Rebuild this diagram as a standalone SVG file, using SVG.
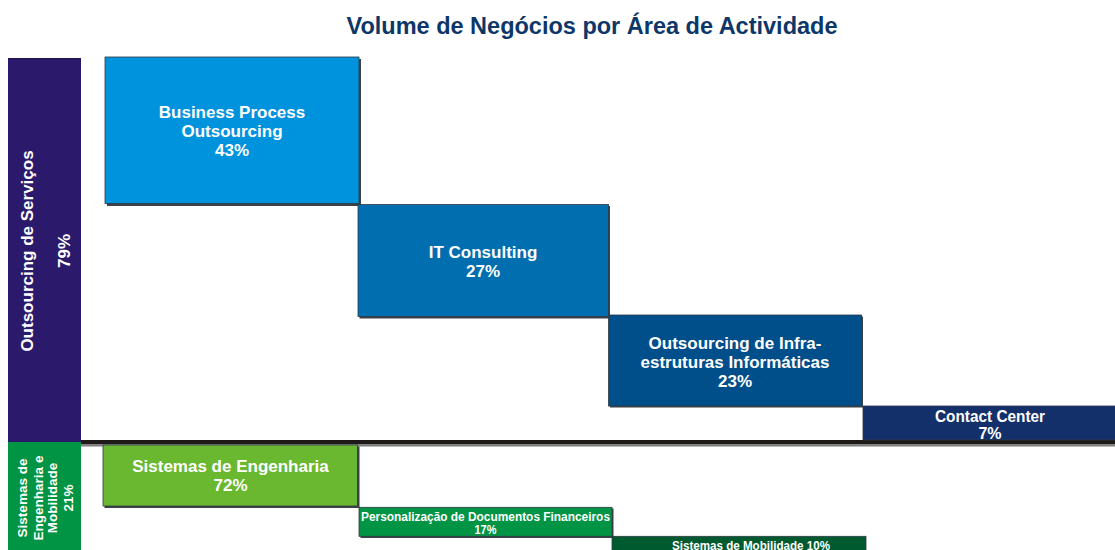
<svg xmlns="http://www.w3.org/2000/svg" width="1115" height="550" viewBox="0 0 1115 550">
<style>
  text { font-family: "Liberation Sans", Arial, sans-serif; font-weight: bold; fill: #ffffff; text-anchor: middle; }
  .title { fill: #0d3768; font-size: 23.5px; }
  .box { stroke: #2f3a45; stroke-width: 0.8; }
  .shadow { fill: #3d4248; }
  .t17 { font-size: 17px; }
  .t16 { font-size: 16px; }
  .t13 { font-size: 13.5px; }
  .t12 { font-size: 12.5px; }
</style>
<rect width="1115" height="550" fill="#ffffff"/>
<text class="title" x="592" y="34">Volume de Negócios por Área de Actividade</text>

<g id="outsourcing-servicos">
  <rect x="8" y="58" width="73" height="384" fill="#2b1a6b"/>
  <line x1="8" y1="58.5" x2="81" y2="58.5" stroke="#1f1450" stroke-width="1"/>
  <text class="t17" transform="translate(32.5,251) rotate(-90)">Outsourcing de Serviços</text>
  <text class="t17" transform="translate(70,251) rotate(-90)">79%</text>
</g>

<g id="sistemas-eng-mob">
  <rect x="8" y="442" width="73" height="108" fill="#009444"/>
  <text class="t13" transform="translate(27,498) rotate(-90)">Sistemas de</text>
  <text class="t13" transform="translate(42.5,498) rotate(-90)">Engenharia e</text>
  <text class="t13" transform="translate(57,498) rotate(-90)">Mobilidade</text>
  <text class="t13" transform="translate(72.5,498) rotate(-90)">21%</text>
</g>

<g id="separator">
  <rect x="81" y="440" width="1034" height="4.5" fill="#1e1a17"/>
  <rect x="81" y="444.5" width="1034" height="2" fill="#7d7d7d"/>
</g>

<g id="bpo">
  <rect class="shadow" x="107" y="59" width="254" height="147"/>
  <rect class="box" x="105" y="57" width="254" height="146.5" fill="#0093dd"/>
  <text class="t17" x="232" y="118">Business Process</text>
  <text class="t17" x="232" y="137">Outsourcing</text>
  <text class="t17" x="232" y="156">43%</text>
</g>

<g id="it-consulting">
  <rect class="shadow" x="359.5" y="206" width="250.5" height="112.5"/>
  <rect class="box" x="358" y="204.5" width="250.5" height="112" fill="#006eaf"/>
  <text class="t17" x="483" y="258">IT Consulting</text>
  <text class="t17" x="483" y="277">27%</text>
</g>

<g id="outsourcing-infra">
  <rect class="shadow" x="610" y="316.5" width="253" height="91"/>
  <rect class="box" x="608.5" y="315" width="253" height="91" fill="#004e8a"/>
  <text class="t17" x="735" y="349">Outsourcing de Infra-</text>
  <text class="t17" x="735" y="368">estruturas Informáticas</text>
  <text class="t17" x="735" y="387">23%</text>
</g>

<g id="contact-center">
  <rect class="box" x="863" y="406" width="253" height="34" fill="#14306a"/>
  <text class="t16" x="990" y="422" textLength="110" lengthAdjust="spacingAndGlyphs">Contact Center</text>
  <text class="t16" x="990" y="438.5">7%</text>
</g>

<g id="sistemas-engenharia">
  <rect class="shadow" x="104.5" y="446.5" width="255" height="61.5"/>
  <rect class="box" x="103" y="445" width="254.5" height="61" fill="#6ab82f"/>
  <text class="t17" x="230.5" y="472">Sistemas de Engenharia</text>
  <text class="t17" x="230.5" y="491">72%</text>
</g>

<g id="personalizacao">
  <rect class="shadow" x="360.5" y="508.5" width="253" height="29.5"/>
  <rect class="box" x="359" y="507.3" width="253" height="29" fill="#009444"/>
  <text class="t12" x="485.5" y="521" textLength="249" lengthAdjust="spacingAndGlyphs">Personalização de Documentos Financeiros</text>
  <text class="t12" x="485.5" y="533.5" textLength="22" lengthAdjust="spacingAndGlyphs">17%</text>
</g>

<g id="sistemas-mobilidade">
  <rect class="box" x="612" y="536.3" width="254" height="16" fill="#005a30"/>
  <text class="t12" x="751" y="549.5" textLength="158" lengthAdjust="spacingAndGlyphs">Sistemas de Mobilidade 10%</text>
</g>

<g id="connectors"></g>
</svg>
